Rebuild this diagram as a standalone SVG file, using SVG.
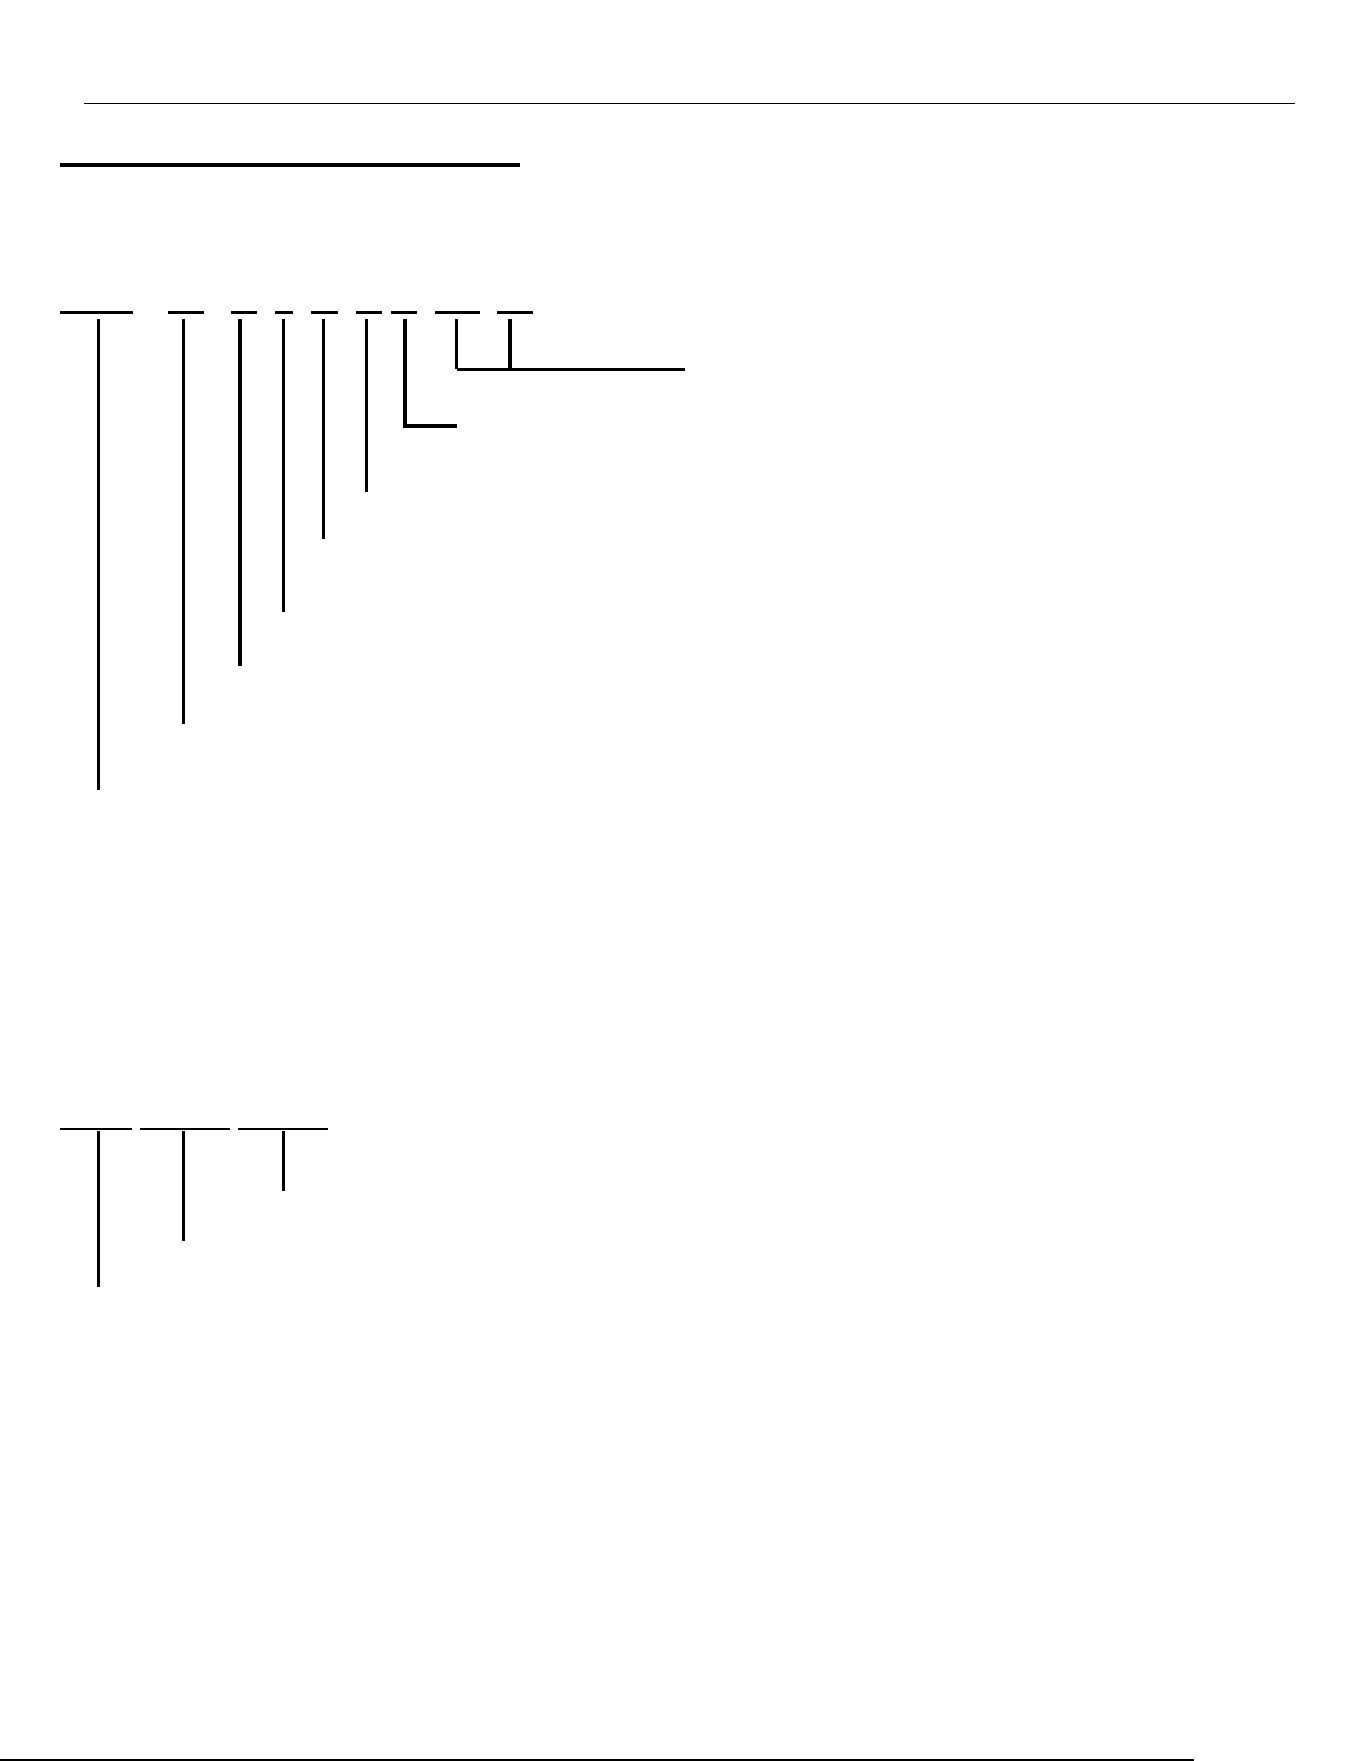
<svg xmlns="http://www.w3.org/2000/svg" width="1361" height="1761" viewBox="0 0 1361 1761">
<style>
line,polyline{shape-rendering:crispEdges;fill:none;stroke:#000}
.thin{stroke-width:1.5}
.bar{stroke-width:3.4}
.stem{stroke-width:3.2}
.heavy{stroke-width:3.8}
.bar2{stroke-width:2.2}
</style>
<rect width="1361" height="1761" fill="#fff"/>
<g id="header">
<line class="thin" x1="84" y1="103.3" x2="1295" y2="103.3"/>
<line class="bar" x1="60" y1="165" x2="520" y2="165"/>
</g>
<g id="code-segments">
<line class="bar" x1="60" y1="312.5" x2="133" y2="312.5"/>
<line class="bar" x1="168" y1="312.5" x2="204" y2="312.5"/>
<line class="bar" x1="231" y1="312.5" x2="257" y2="312.5"/>
<line class="bar" x1="275" y1="312.5" x2="293" y2="312.5"/>
<line class="bar" x1="311" y1="312.5" x2="338" y2="312.5"/>
<line class="bar" x1="356" y1="312.5" x2="382" y2="312.5"/>
<line class="bar" x1="391" y1="312.5" x2="417" y2="312.5"/>
<line class="bar" x1="435" y1="312.5" x2="480" y2="312.5"/>
<line class="bar" x1="497" y1="312.5" x2="533" y2="312.5"/>
</g>
<g id="connectors">
<line class="stem" x1="98.5" y1="319" x2="98.5" y2="790"/>
<line class="stem" x1="183.5" y1="319" x2="183.5" y2="724"/>
<line class="heavy" x1="240" y1="319" x2="240" y2="666"/>
<line class="stem" x1="283.5" y1="319" x2="283.5" y2="612"/>
<line class="stem" x1="323.5" y1="319" x2="323.5" y2="539"/>
<line class="stem" x1="366.5" y1="319" x2="366.5" y2="492"/>
<line class="heavy" x1="405" y1="319" x2="405" y2="427.7"/>
<line class="stem" x1="403" y1="426" x2="457" y2="426"/>
<line class="stem" x1="456.5" y1="319" x2="456.5" y2="369"/>
<line class="heavy" x1="509.7" y1="319" x2="509.7" y2="369"/>
<line class="bar" x1="457" y1="369.5" x2="685" y2="369.5"/>
</g>
<g id="lower-segments">
<line class="bar2" x1="60" y1="1129" x2="132" y2="1129"/>
<line class="bar2" x1="140" y1="1129" x2="230" y2="1129"/>
<line class="bar2" x1="238" y1="1129" x2="328" y2="1129"/>
</g>
<g id="lower-connectors">
<line class="stem" x1="98.5" y1="1131" x2="98.5" y2="1287"/>
<line class="stem" x1="183.5" y1="1131" x2="183.5" y2="1241"/>
<line class="stem" x1="283.5" y1="1131" x2="283.5" y2="1191"/>
</g>
<g id="footer">
<line class="thin" x1="0" y1="1760" x2="1194" y2="1760"/>
</g>
</svg>
